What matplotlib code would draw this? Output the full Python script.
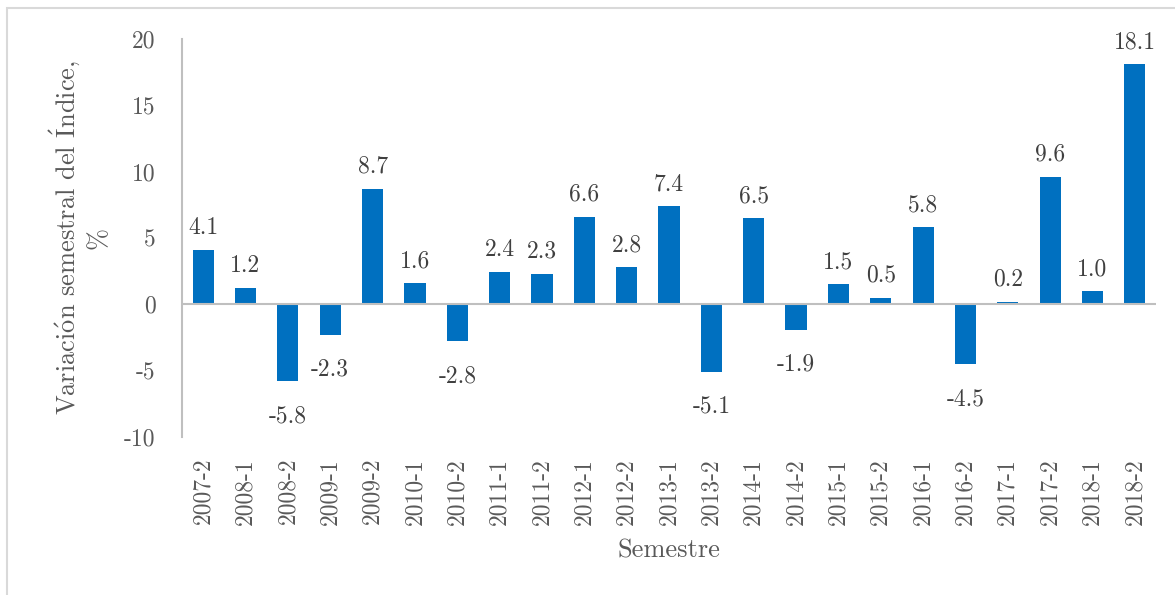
import matplotlib
matplotlib.use("Agg")
import matplotlib.pyplot as plt
from matplotlib.patches import Rectangle

semestres = ["2007-2", "2008-1", "2008-2", "2009-1", "2009-2", "2010-1",
             "2010-2", "2011-1", "2011-2", "2012-1", "2012-2", "2013-1",
             "2013-2", "2014-1", "2014-2", "2015-1", "2015-2", "2016-1",
             "2016-2", "2017-1", "2017-2", "2018-1", "2018-2"]
variacion = [4.1, 1.2, -5.8, -2.3, 8.7, 1.6, -2.8, 2.4, 2.3, 6.6, 2.8, 7.4,
             -5.1, 6.5, -1.9, 1.5, 0.5, 5.8, -4.5, 0.2, 9.6, 1.0, 18.1]
yticks = [-10, -5, 0, 5, 10, 15, 20]

plt.rcParams["font.family"] = ["cmr10", "DejaVu Serif"]
plt.rcParams["mathtext.fontset"] = "cm"
plt.rcParams["axes.unicode_minus"] = False
TXT = "#595959"
BLUE = "#0070C0"
GRID = "#BFBFBF"

fig = plt.figure(figsize=(11.75, 5.95), dpi=100)
ax = fig.add_axes([182 / 1175, 1 - 437 / 595, (1156 - 182) / 1175, (437 - 39) / 595])

# light frame round the whole chart
fig.patches.append(Rectangle((7 / 1175, -0.1), 1.2, 1 - 8 / 595 + 0.1,
                             transform=fig.transFigure, fill=False,
                             edgecolor="#D9D9D9", linewidth=1.5))

x = range(len(semestres))
ax.bar(x, variacion, width=0.5, color=BLUE, zorder=2)
ax.axhline(0, color=GRID, linewidth=1.5, zorder=3)

for i, v in zip(x, variacion):
    dy = 16 if v >= 0 else -41
    ax.annotate(f"{v:.1f}", (i, v), xytext=(0, dy), textcoords="offset pixels",
                ha="center", va="baseline", fontsize=17, color="#404040")

ax.set_xlim(-0.5, len(semestres) - 0.5)
ax.set_ylim(-10, 20)
ax.set_yticks(yticks)
ax.set_yticklabels([str(t) for t in yticks])
ax.set_xticks(list(x))
ax.set_xticklabels(semestres, rotation=90)
ax.tick_params(axis="y", length=0, pad=19, labelsize=17, labelcolor=TXT)
ax.tick_params(axis="x", length=0, pad=15, labelsize=17, labelcolor=TXT)

for s in ["top", "right", "bottom"]:
    ax.spines[s].set_visible(False)
ax.spines["left"].set_color(GRID)
ax.spines["left"].set_linewidth(1.5)

ax.set_xlabel("Semestre", fontsize=19, color=TXT, labelpad=10)
ax.set_ylabel("Variaci$\\mathrm{\\acute{o}}$n semestral del "
              "$\\mathrm{\\acute{I}}$ndice,\n%", fontsize=19, color=TXT,
              labelpad=10, linespacing=1.25)

fig.savefig("out.png", dpi=100)
